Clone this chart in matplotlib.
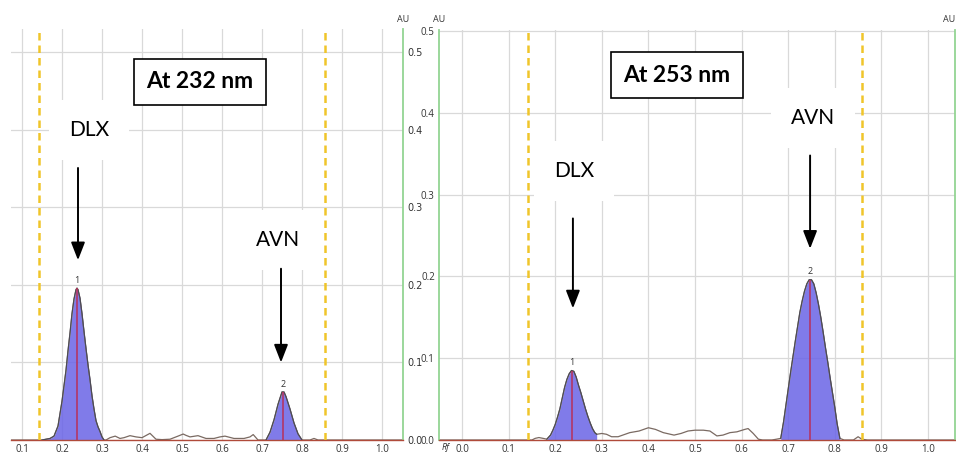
import numpy as np
import matplotlib
matplotlib.use("Agg")
import matplotlib.pyplot as plt

# ---------------- data ----------------
# Left panel: densitogram at 232 nm
left_rf = [0.07, 0.15, 0.16, 0.17, 0.18, 0.19, 0.20, 0.21, 0.215, 0.22, 0.225, 0.23,
           0.235, 0.2375, 0.24, 0.245, 0.25, 0.255, 0.26, 0.265, 0.27, 0.275, 0.28,
           0.285, 0.29, 0.295, 0.30, 0.305, 0.31, 0.32, 0.333, 0.345, 0.355, 0.37,
           0.385, 0.40, 0.42, 0.435, 0.45, 0.47, 0.49, 0.503, 0.51, 0.52, 0.54, 0.56,
           0.58, 0.595, 0.6075, 0.63, 0.655, 0.67, 0.678, 0.69, 0.71, 0.72, 0.73,
           0.74, 0.75, 0.755, 0.76, 0.77, 0.78, 0.79, 0.80, 0.82, 0.83, 0.84, 1.06]
left_au = [0.0, 0.0, 0.001, 0.002, 0.005, 0.018, 0.050, 0.090, 0.115, 0.138, 0.163, 0.182,
           0.194, 0.196, 0.194, 0.183, 0.163, 0.140, 0.118, 0.097, 0.078, 0.057, 0.040,
           0.025, 0.017, 0.011, 0.004, 0.0, 0.0, 0.003, 0.005, 0.002, 0.003, 0.0056,
           0.004, 0.003, 0.0086, 0.001, 0.0005, 0.001, 0.005, 0.0077, 0.006, 0.004, 0.0056, 0.002,
           0.002, 0.004, 0.005, 0.002, 0.002, 0.004, 0.007, 0.0, 0.0, 0.010, 0.026,
           0.046, 0.062, 0.062, 0.056, 0.040, 0.022, 0.008, 0.0, 0.0, 0.002, 0.0, 0.0]
left_peak_ranges = [(0.15, 0.305), (0.71, 0.80)]
left_peak_rf = [0.2375, 0.752]
left_peak_labels = ["1", "2"]

# Right panel: densitogram at 253 nm
right_rf = [-0.05, 0.15, 0.157, 0.165, 0.174, 0.182, 0.19, 0.195, 0.20, 0.205, 0.21, 0.215,
            0.22, 0.225, 0.23, 0.235, 0.24, 0.245, 0.25, 0.255, 0.26, 0.265, 0.27, 0.275,
            0.28, 0.285, 0.289, 0.30, 0.31, 0.321, 0.335, 0.35, 0.36, 0.38, 0.40, 0.415,
            0.432, 0.455, 0.47, 0.485, 0.50, 0.518, 0.532, 0.547, 0.56, 0.575, 0.59,
            0.607, 0.614, 0.625, 0.636, 0.645, 0.665, 0.675, 0.684, 0.69, 0.695, 0.70,
            0.705, 0.71, 0.715, 0.72, 0.725, 0.73, 0.735, 0.74, 0.745, 0.75, 0.755, 0.76,
            0.765, 0.77, 0.775, 0.78, 0.785, 0.79, 0.795, 0.80, 0.805, 0.811, 0.82, 0.84,
            0.85, 0.858, 0.87, 1.06]
right_au = [0.0, 0.0, 0.002, 0.003, 0.002, 0.001, 0.006, 0.012, 0.019, 0.028, 0.038, 0.051,
            0.064, 0.074, 0.081, 0.085, 0.084, 0.077, 0.067, 0.058, 0.048, 0.038, 0.029, 0.021,
            0.014, 0.009, 0.007, 0.008, 0.007, 0.004, 0.004, 0.007, 0.009, 0.011, 0.015, 0.013,
            0.009, 0.006, 0.008, 0.011, 0.012, 0.012, 0.011, 0.005, 0.006, 0.009, 0.010,
            0.013, 0.014, 0.008, 0.001, 0.0, 0.0, 0.001, 0.002, 0.022, 0.042, 0.062,
            0.082, 0.101, 0.120, 0.138, 0.156, 0.170, 0.182, 0.191, 0.196, 0.196, 0.191, 0.180,
            0.166, 0.150, 0.132, 0.113, 0.095, 0.076, 0.058, 0.040, 0.020, 0.002, 0.0, 0.0,
            0.004, 0.001, 0.0, 0.0]
right_peak_ranges = [(0.182, 0.289), (0.684, 0.811)]
right_peak_rf = [0.235, 0.747]
right_peak_labels = ["1", "2"]

front_lines = [0.142, 0.858]
left_xticks = [0.1, 0.2, 0.3, 0.4, 0.5, 0.6, 0.7, 0.8, 0.9, 1.0]
right_xticks = [0.0, 0.1, 0.2, 0.3, 0.4, 0.5, 0.6, 0.7, 0.8, 0.9, 1.0]
yticks = [0.0, 0.1, 0.2, 0.3, 0.4, 0.5]

# ---------------- style ----------------
FILL = "#6a64e6"
OUTLINE = "#4a4a55"
NOISE = "#7a6a62"
CENTER = "#b8305a"
BASE = "#b04a3a"
GREEN = "#93d493"
YELLOW = "#f0c52a"
GRID = "#d9d9d9"
TICKFONT = "Open Sans"
LABFONT = "Lato"

W, H = 956, 454
fig = plt.figure(figsize=(W / 100, H / 100), dpi=100)


def pos(l, r, b, t):
    return [l / W, (H - b) / H, (r - l) / W, (b - t) / H]


axL = fig.add_axes(pos(11, 403, 440, 29))
axR = fig.add_axes(pos(439, 955, 440, 30))


def draw_trace(ax, rf, au, ranges, peaks, labels):
    rf = np.array(rf)
    au = np.array(au)
    for (a, b) in ranges:
        m = (rf >= a) & (rf <= b)
        ax.fill_between(rf[m], 0, au[m], color=FILL, alpha=0.85, lw=0, zorder=2)
        ax.plot(rf[m], au[m], color=OUTLINE, lw=0.8, zorder=3)
    ax.plot(rf, au, color=NOISE, lw=0.9, zorder=2.5)
    for p, lab in zip(peaks, labels):
        h = np.interp(p, rf, au)
        ax.vlines(p, 0, h, color=CENTER, lw=1.1, zorder=4)
        ax.text(p, h + 0.004, lab, ha="center", va="bottom", fontsize=6.5,
                family=TICKFONT, color="#333333", zorder=5)
    for f in front_lines:
        ax.axvline(f, color=YELLOW, lw=1.8, ls=(0, (3, 2)), zorder=4)


def style_axes(ax, xlim, ylim, xticks):
    ax.set_xlim(*xlim)
    ax.set_ylim(*ylim)
    ax.set_xticks(xticks)
    ax.set_xticklabels([f"{t:.1f}" for t in xticks])
    ax.set_yticks(yticks)
    ax.set_yticklabels([f"{t:.1f}" for t in yticks])
    ax.grid(True, color=GRID, lw=0.9)
    ax.set_axisbelow(True)
    ax.tick_params(length=0, labelsize=7, labelcolor="#333333", pad=3)
    for lab in ax.get_xticklabels() + ax.get_yticklabels():
        lab.set_family(TICKFONT)
    ax.spines["top"].set_visible(False)
    ax.spines["bottom"].set_color(BASE)
    ax.spines["bottom"].set_linewidth(1.0)


# Left panel
draw_trace(axL, left_rf, left_au, left_peak_ranges, left_peak_rf, left_peak_labels)
style_axes(axL, (0.0725, 1.0525), (0, 0.5303), left_xticks)
axL.spines["left"].set_visible(False)
axL.spines["right"].set_color(GREEN)
axL.spines["right"].set_linewidth(1.3)
axL.yaxis.tick_right()
axL.text(1.0, 1.012, "AU", transform=axL.transAxes, ha="center", va="bottom",
         fontsize=6.5, family=TICKFONT, color="#333333")

# Right panel
draw_trace(axR, right_rf, right_au, right_peak_ranges, right_peak_rf, right_peak_labels)
style_axes(axR, (-0.0494, 1.058), (0, 0.5015), right_xticks)
for s in ("left", "right"):
    axR.spines[s].set_color(GREEN)
    axR.spines[s].set_linewidth(1.3)
axR.text(0.0, 1.015, "AU", transform=axR.transAxes, ha="center", va="bottom",
         fontsize=6.5, family=TICKFONT, color="#333333")
axR.text(1.0005, 1.015, "AU", transform=axR.transAxes, ha="right", va="bottom",
         fontsize=6.5, family=TICKFONT, color="#333333")
axR.text(0.012, -0.019, "Rf", transform=axR.transAxes, ha="center", va="center",
         fontsize=6.5, family=TICKFONT, style="italic", color="#333333")


def label(ax, x, y, s):
    ax.text(x, y, s, ha="center", va="center", fontsize=15, family=LABFONT,
            color="black", zorder=6,
            bbox=dict(boxstyle="square,pad=0.95", fc="white", ec="none"))


def arrow(ax, x, y0, y1):
    ax.annotate("", xy=(x, y1), xytext=(x, y0), zorder=7,
                arrowprops=dict(arrowstyle="-|>,head_width=0.35,head_length=0.9",
                                color="black", lw=1.4, mutation_scale=12,
                                shrinkA=0, shrinkB=0))


def title_box(ax, x, y, s):
    ax.text(x, y, s, ha="center", va="center", fontsize=16.5, family=LABFONT,
            weight="bold", color="black", zorder=6,
            bbox=dict(boxstyle="square,pad=0.55", fc="white", ec="black", lw=1.2))


title_box(axL, 0.545, 0.462, "At 232 nm")
label(axL, 0.2675, 0.400, "DLX")
arrow(axL, 0.240, 0.351, 0.232)
label(axL, 0.740, 0.258, "AVN")
arrow(axL, 0.7475, 0.221, 0.100)

title_box(axR, 0.461, 0.446, "At 253 nm")
label(axR, 0.240, 0.329, "DLX")
arrow(axR, 0.238, 0.271, 0.161)
label(axR, 0.753, 0.394, "AVN")
arrow(axR, 0.747, 0.348, 0.234)

fig.savefig("out.png", dpi=100)
